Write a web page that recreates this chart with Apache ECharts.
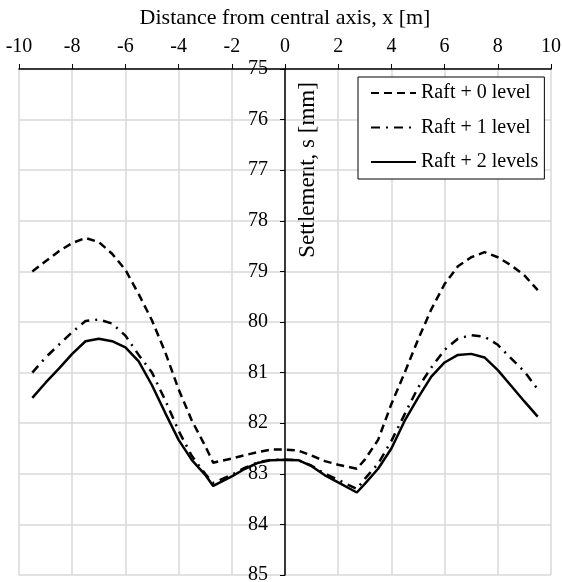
<!DOCTYPE html>
<html>
<head>
<meta charset="utf-8">
<script src="https://cdn.jsdelivr.net/npm/echarts@6/dist/echarts.min.js"></script>
<style>
html,body{margin:0;padding:0;background:#fff;}
#chart{width:562px;height:582px;}
</style>
</head>
<body>
<div id="chart"></div>
<script>
const xTitle = 'Distance from central axis, x [m]';
const yTitle = 'Settlement, s [mm]';
const seriesNames = ['Raft + 0 level', 'Raft + 1 level', 'Raft + 2 levels'];

const xValues = [-9.5, -9, -8.5, -8, -7.5, -7, -6.5, -6, -5.5, -5, -4.5, -4, -3.5, -3, -2.7, -2, -1.5, -1, -0.5, 0, 0.5, 1, 1.5, 2, 2.7, 3, 3.5, 4, 4.5, 5, 5.5, 6, 6.5, 7, 7.5, 8, 8.5, 9, 9.5];

const raft0 = [79.0, 78.8, 78.6, 78.44, 78.34, 78.42, 78.65, 78.97, 79.45, 79.97, 80.6, 81.33, 81.95, 82.45, 82.78, 82.7, 82.63, 82.57, 82.52, 82.52, 82.54, 82.64, 82.75, 82.82, 82.9, 82.72, 82.33, 81.62, 81.0, 80.35, 79.75, 79.25, 78.9, 78.72, 78.62, 78.72, 78.88, 79.08, 79.37];
const raft1 = [81.0, 80.7, 80.45, 80.2, 79.98, 79.95, 80.03, 80.27, 80.65, 81.0, 81.55, 82.15, 82.65, 83.0, 83.18, 83.02, 82.88, 82.77, 82.72, 82.72, 82.73, 82.84, 83.0, 83.12, 83.3, 83.1, 82.8, 82.35, 81.82, 81.3, 80.9, 80.55, 80.33, 80.26, 80.29, 80.45, 80.72, 80.98, 81.33];
const raft2 = [81.5, 81.2, 80.92, 80.63, 80.38, 80.33, 80.38, 80.5, 80.78, 81.25, 81.8, 82.33, 82.73, 83.02, 83.24, 83.05, 82.9, 82.78, 82.73, 82.72, 82.73, 82.85, 83.03, 83.17, 83.37, 83.2, 82.9, 82.5, 81.95, 81.5, 81.08, 80.8, 80.65, 80.63, 80.7, 80.95, 81.26, 81.57, 81.87];

const xMin = -10, xMax = 10, xStep = 2;
const yMin = 75, yMax = 85, yStep = 1;

const FONT = '"Liberation Serif", "Times New Roman", serif';
const W = 562, H = 582;
const gridLeft = 19, gridRight = 11, gridTop = 69, gridBottom = 7;
const gridWidth = W - gridLeft - gridRight;

const chart = echarts.init(document.getElementById('chart'), null, {renderer: 'canvas'});

function pairs(ys) { return xValues.map((x, i) => [x, ys[i]]); }

const dashStyles = [[8, 5], [9, 6, 2, 6], 'solid'];
const allSeries = [raft0, raft1, raft2];

chart.setOption({
  animation: false,
  backgroundColor: '#fff',
  grid: {left: gridLeft, right: gridRight, top: gridTop, bottom: gridBottom, containLabel: false, outerBoundsMode: 'none'},
  xAxis: {
    type: 'value', position: 'top', min: xMin, max: xMax, interval: xStep,
    name: xTitle, nameLocation: 'middle', nameGap: 40,
    nameTextStyle: {fontFamily: FONT, fontSize: 22, color: '#000'},
    axisLine: {onZero: false, lineStyle: {color: '#000', width: 1.5}},
    axisTick: {show: true, inside: false, length: 5, lineStyle: {color: '#000', width: 1}},
    axisLabel: {fontFamily: FONT, fontSize: 20, color: '#000', margin: 12},
    splitLine: {show: true, lineStyle: {color: '#d9d9d9', width: 1.5}}
  },
  yAxis: {
    type: 'value', inverse: true, min: yMin, max: yMax, interval: yStep,
    position: 'left', offset: -gridWidth / 2,
    axisLine: {onZero: false, lineStyle: {color: '#000', width: 1.5}},
    axisTick: {show: true, inside: false, length: 5, lineStyle: {color: '#000', width: 1}},
    axisLabel: {fontFamily: FONT, fontSize: 20, color: '#000', margin: 17},
    splitLine: {show: true, lineStyle: {color: '#d9d9d9', width: 1.5}}
  },
  legend: {
    orient: 'vertical', left: 358, top: 77,
    backgroundColor: '#fff', borderColor: '#000', borderWidth: 1,
    padding: [6, 6, 7, 12], itemGap: 14.5, itemWidth: 45, itemHeight: 14,
    itemStyle: {opacity: 0},
    textStyle: {fontFamily: FONT, fontSize: 20, color: '#000', lineHeight: 20},
    data: seriesNames
  },
  graphic: [{
    type: 'text', x: 308, y: 170, rotation: Math.PI / 2,
    style: {text: yTitle, font: '23px ' + FONT, fill: '#000', align: 'center', verticalAlign: 'middle'}
  }],
  series: allSeries.map((ys, i) => ({
    name: seriesNames[i], type: 'line', data: pairs(ys),
    symbol: 'none', smooth: false,
    lineStyle: {color: '#000', width: 2.5, type: dashStyles[i]},
    itemStyle: {color: '#000'}
  }))
});
</script>
</body>
</html>
